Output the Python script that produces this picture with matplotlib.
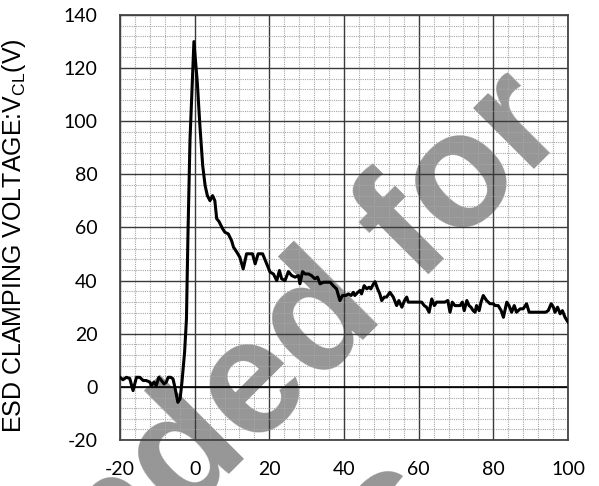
import matplotlib
matplotlib.use("Agg")
import matplotlib.pyplot as plt
from matplotlib.ticker import MultipleLocator

plt.rcParams["axes.unicode_minus"] = False

# waveform (time in ns, clamping voltage in V)
t_ns = [-20.0, -19.2, -18.3, -17.4, -16.5, -15.6, -14.7, -13.8, -13.0, -12.0,
        -11.6, -10.9, -10.3, -9.6, -8.9, -8.2, -7.6, -7.1, -6.4, -5.8,
        -5.3, -4.5, -3.9, -3.4, -2.7, -2.2, -1.8, -1.25, -0.2, 0.7,
        1.4, 2.15, 2.8, 3.4, 4.1, 4.8, 5.4, 5.9, 6.5, 7.5,
        8.1, 9.0, 9.9, 10.4, 11.3, 12.1, 13.0, 13.9, 14.8, 15.5,
        16.2, 17.0, 18.2, 19.3, 20.2, 21.1, 22.0, 22.7, 23.3, 24.2,
        25.1, 26.0, 26.9, 27.8, 28.2, 28.9, 29.6, 30.5, 31.3, 32.2,
        32.9, 33.6, 34.5, 35.4, 36.3, 37.1, 38.0, 38.9, 39.6, 40.5,
        41.2, 41.9, 42.5, 42.9, 43.7, 44.3, 44.7, 45.4, 46.1, 46.7,
        47.2, 47.9, 48.3, 49.0, 49.6, 50.1, 50.8, 51.4, 52.3, 53.2,
        54.1, 54.7, 55.5, 56.2, 56.8, 57.2, 60.0, 60.8, 61.5, 62.1,
        62.8, 63.5, 64.2, 64.8, 65.7, 67.0, 67.8, 68.4, 69.0, 69.7,
        71.1, 71.7, 72.2, 72.9, 73.5, 74.0, 74.6, 75.1, 75.5, 76.2,
        76.7, 77.3, 78.2, 79.1, 80.0, 80.5, 81.3, 82.1, 82.7, 83.1,
        83.6, 84.2, 84.9, 85.6, 86.2, 87.2, 88.0, 88.9, 89.6, 91.2,
        92.9, 94.0, 94.7, 95.5, 96.1, 96.5, 97.2, 97.9, 98.5, 99.2,
        100.0]
v_cl = [3.6, 2.7, 3.6, 3.2, -1.4, 3.6, 3.6, 2.4, 2.4, 1.8,
        0.5, 1.8, 0.5, 3.6, 2.4, 1.1, 1.8, 3.6, 3.6, 3.0,
        -0.1, -5.8, -4.5, 1.9, 13.0, 25.6, 57.0, 93.0, 130.0, 114.7,
        98.4, 83.3, 75.8, 72.0, 70.1, 72.0, 70.1, 63.3, 62.3, 59.5,
        58.2, 57.6, 55.0, 52.6, 50.7, 48.8, 44.4, 50.1, 50.1, 50.1,
        46.3, 50.1, 50.1, 46.3, 43.2, 42.5, 40.0, 43.8, 40.7, 40.0,
        43.4, 41.9, 41.3, 41.9, 38.8, 43.4, 42.5, 42.5, 41.9, 40.7,
        41.3, 38.8, 39.4, 39.4, 39.4, 38.1, 36.9, 32.5, 34.4, 34.4,
        35.0, 34.4, 35.6, 34.4, 35.6, 36.3, 35.0, 38.1, 36.9, 37.5,
        36.9, 38.8, 39.6, 36.9, 35.0, 32.5, 33.8, 33.8, 35.6, 33.8,
        30.6, 32.5, 30.0, 32.5, 33.8, 31.9, 31.9, 31.9, 30.6, 30.0,
        28.1, 33.1, 30.6, 31.9, 31.9, 31.9, 32.5, 28.1, 31.9, 30.6,
        30.6, 31.9, 28.7, 32.5, 30.6, 30.0, 28.7, 28.1, 30.6, 28.7,
        31.9, 34.4, 32.5, 31.3, 31.3, 30.6, 30.6, 28.7, 26.2, 28.7,
        31.9, 30.6, 28.1, 30.6, 28.1, 29.4, 29.4, 31.3, 28.1, 28.1,
        28.1, 28.1, 28.7, 31.3, 30.0, 28.1, 30.0, 27.5, 28.7, 26.2,
        24.4]

x_ticks = [-20, 0, 20, 40, 60, 80, 100]
y_ticks = [-20, 0, 20, 40, 60, 80, 100, 120, 140]

W, H = 599, 486
fig = plt.figure(figsize=(W / 100, H / 100), dpi=100)
ax = fig.add_axes([120 / W, 46 / H, 448 / W, 425 / H])
ax.patch.set_facecolor("none")

# grey stamp behind the chart
def fpos(px, py):
    return px / W, 1 - py / H

wm = dict(color="#969696", fontsize=117, fontweight="bold", family="Liberation Sans",
          rotation=45, rotation_mode="anchor", ha="right", va="baseline", zorder=-5)
fig.text(*fpos(572, 132), "Not Recommended for", **wm)
fig.text(*fpos(455, 515), "New Designs", **wm)

ax.plot(t_ns, v_cl, color="black", lw=2.2, zorder=3)

ax.set_xlim(-20, 100)
ax.set_ylim(-20, 140)
ax.set_xticks(x_ticks)
ax.set_yticks(y_ticks)
ax.xaxis.set_minor_locator(MultipleLocator(4))
ax.yaxis.set_minor_locator(MultipleLocator(4))
ax.grid(which="minor", color="#a6a6a6", lw=0.8, ls=(0, (1, 1)))
ax.grid(which="major", color="#3a3a3a", lw=1.0)
ax.axhline(0, color="black", lw=1.2, zorder=2)
ax.tick_params(which="both", length=0)
ax.tick_params(axis="y", pad=16, labelsize=14)
ax.tick_params(axis="x", pad=15, labelsize=14)
for lab in ax.get_xticklabels() + ax.get_yticklabels():
    lab.set_family("Lato")
for sp in ax.spines.values():
    sp.set_color("#444444")
    sp.set_linewidth(1.3)

ax.set_ylabel("ESD CLAMPING VOLTAGE:V$_\\mathregular{CL}$(V)",
              family="Liberation Sans", fontsize=18)
ax.yaxis.set_label_coords(-0.205, 0.482)

fig.savefig("out.png", dpi=100)
